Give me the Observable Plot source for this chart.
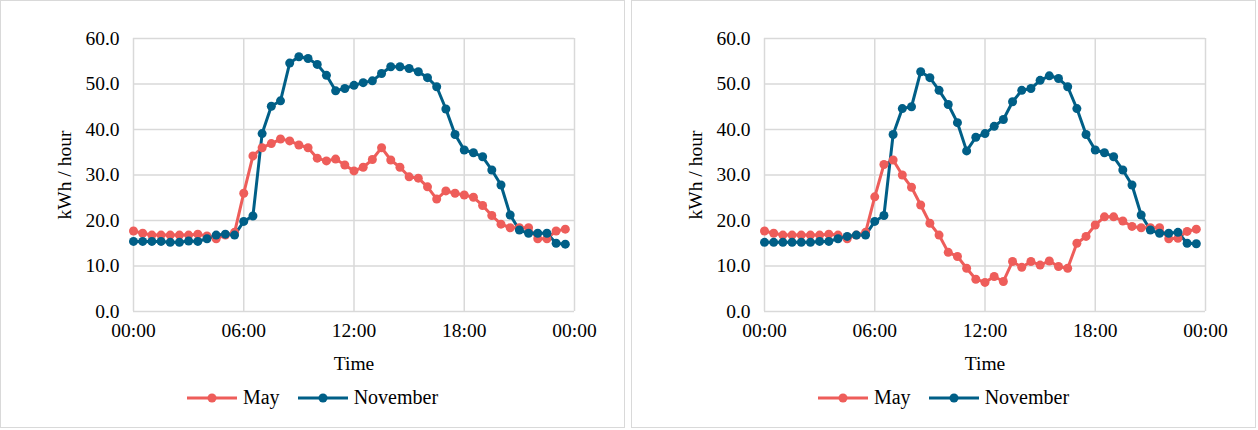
<!DOCTYPE html>
<html>
<head>
<meta charset="utf-8">
<script src="https://cdn.jsdelivr.net/npm/d3@7"></script>
<script src="https://cdn.jsdelivr.net/npm/@observablehq/plot@0.6"></script>
<style>
  body { margin: 0; background: #fff; font-family: "Liberation Serif", serif; }
  #wrap { display: flex; gap: 6px; }
  .panel { width: 625px; height: 428px; border: 1px solid #d9d9d9; box-sizing: border-box; position: relative; }
  .legend { position: absolute; top: 385px; left: 0; width: 100%; display: flex; justify-content: center; gap: 18px; font-size: 20px; color: #000; }
  .legend span { display: flex; align-items: center; gap: 6px; }
  .legend svg { overflow: visible; }
</style>
</head>
<body>
<div id="wrap">
  <div class="panel" id="left"></div>
  <div class="panel" id="right"></div>
</div>
<script>
// half-hour steps, 00:00 .. 23:30
const hours = d3.range(48).map(i => i / 2);

const mayLeft = [17.7, 17.2, 16.8, 16.8, 16.8, 16.8, 16.8, 17.0, 16.6, 16.0, 16.8, 17.4,
  26.0, 34.2, 36.0, 36.9, 37.9, 37.5, 36.6, 36.0, 33.7, 33.1, 33.5, 32.2,
  30.9, 31.7, 33.4, 36.0, 33.3, 31.7, 29.6, 29.3, 27.4, 24.7, 26.5, 26.0,
  25.6, 25.1, 23.3, 21.1, 19.2, 18.4, 18.4, 18.4, 16.0, 16.0, 17.7, 18.1];
const novLeft = [15.4, 15.4, 15.4, 15.4, 15.2, 15.2, 15.5, 15.4, 16.0, 16.8, 17.0, 16.8,
  19.8, 21.0, 39.1, 45.1, 46.3, 54.6, 56.0, 55.6, 54.3, 51.9, 48.5, 49.0,
  49.7, 50.3, 50.7, 52.3, 53.8, 53.8, 53.4, 52.7, 51.4, 49.4, 44.5, 38.9,
  35.5, 34.9, 34.0, 31.1, 27.8, 21.2, 17.9, 17.2, 17.2, 17.2, 15.0, 14.8];
const mayRight = [17.7, 17.2, 16.8, 16.8, 16.8, 16.8, 16.8, 17.0, 16.8, 16.0, 16.8, 17.4,
  25.2, 32.3, 33.3, 30.0, 27.3, 23.4, 19.4, 16.8, 13.0, 12.1, 9.5, 7.1,
  6.4, 7.7, 6.6, 11.0, 9.7, 11.0, 10.2, 11.1, 9.9, 9.5, 15.0, 16.5,
  19.0, 20.8, 20.8, 19.9, 18.7, 18.4, 18.4, 18.4, 16.0, 16.1, 17.6, 18.1];
const novRight = [15.2, 15.2, 15.2, 15.2, 15.2, 15.2, 15.4, 15.4, 16.0, 16.5, 16.8, 16.8,
  19.8, 21.1, 38.9, 44.6, 45.0, 52.7, 51.4, 48.6, 45.5, 41.5, 35.3, 38.3,
  39.1, 40.7, 42.2, 46.1, 48.6, 49.0, 50.8, 51.8, 51.2, 49.4, 44.6, 38.9,
  35.5, 34.9, 34.0, 31.1, 27.8, 21.2, 17.9, 17.2, 17.2, 17.4, 15.0, 14.9];

const xTicks = [0, 6, 12, 18, 24];
const xTickLabels = ["00:00", "06:00", "12:00", "18:00", "00:00"];
const yTicks = [0, 10, 20, 30, 40, 50, 60];
const seriesNames = ["May", "November"];
const colors = ["#EE5D5A", "#005F87"];

function drawPanel(id, may, nov) {
  const rows = [
    ...hours.map((h, i) => ({h, v: may[i], s: "May"})),
    ...hours.map((h, i) => ({h, v: nov[i], s: "November"}))
  ];
  const chart = Plot.plot({
    width: 623,
    height: 375,
    marginLeft: 132,
    marginRight: 50,
    marginTop: 37,
    marginBottom: 65,
    style: {fontFamily: "Liberation Serif", fontSize: "19.5px", color: "#000"},
    x: {domain: [0, 24], ticks: xTicks, tickFormat: (d, i) => xTickLabels[i], tickSize: 0,
        tickPadding: 12, label: "Time", labelAnchor: "center", labelOffset: 58, labelArrow: "none"},
    y: {domain: [0, 60], ticks: yTicks, tickFormat: d => d.toFixed(1), tickSize: 0,
        tickPadding: 14, label: "kWh / hour", labelAnchor: "center", labelOffset: 76, labelArrow: "none"},
    color: {domain: seriesNames, range: colors},
    marks: [
      Plot.gridX(xTicks, {stroke: "#d9d9d9", strokeOpacity: 1, strokeWidth: 1.5}),
      Plot.gridY(yTicks, {stroke: "#d9d9d9", strokeOpacity: 1, strokeWidth: 1.5}),
      Plot.line(rows, {x: "h", y: "v", stroke: "s", z: "s", strokeWidth: 3}),
      Plot.dot(rows, {x: "h", y: "v", fill: "s", r: 4.5})
    ]
  });
  const el = document.getElementById(id);
  el.appendChild(chart);
  const leg = document.createElement("div");
  leg.className = "legend";
  leg.innerHTML = seriesNames.map((n, i) => `
    <span><svg width="50" height="12"><line x1="0" x2="50" y1="6" y2="6" stroke="${colors[i]}" stroke-width="3"/>
    <circle cx="25" cy="6" r="4.5" fill="${colors[i]}"/></svg>${n}</span>`).join("");
  el.appendChild(leg);
}

drawPanel("left", mayLeft, novLeft);
drawPanel("right", mayRight, novRight);
</script>
</body>
</html>
